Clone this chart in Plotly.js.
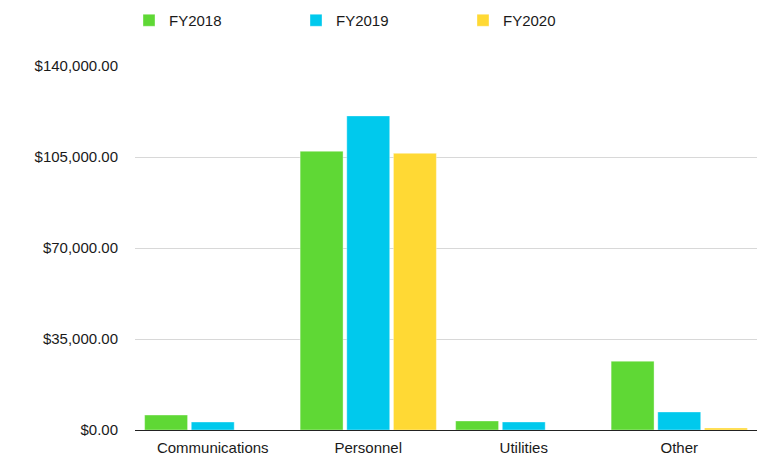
<!DOCTYPE html>
<html>
<head>
<meta charset="utf-8">
<script src="https://cdn.plot.ly/plotly-3.0.1.min.js"></script>
<style>html,body{margin:0;padding:0;background:#fff;}#chart{width:775px;height:455px;}</style>
</head>
<body>
<div id="chart"></div>
<script>
const categories = ["Communications", "Personnel", "Utilities", "Other"];
const fy2018 = [5750, 107200, 3470, 26450];
const fy2019 = [3070, 120800, 3080, 6930];
const fy2020 = [0, 106400, 0, 770];
const seriesNames = ["FY2018", "FY2019", "FY2020"];
const seriesColors = ["#5fd835", "#00c9ed", "#ffd934"];

const data = [fy2018, fy2019, fy2020].map((vals, i) => ({
  type: "bar",
  name: seriesNames[i],
  x: categories,
  y: vals,
  marker: {color: seriesColors[i], line: {color: "rgba(255,255,255,0.6)", width: 0.6}},
  hoverinfo: "x+y+name"
}));

const layout = {
  width: 775, height: 455,
  margin: {l: 135, r: 18, t: 66, b: 25},
  paper_bgcolor: "#fff", plot_bgcolor: "#fff",
  font: {family: "Liberation Sans, Arial, Helvetica, sans-serif", size: 15, color: "#1a1a1a"},
  barmode: "group",
  bargap: 0.1,
  bargroupgap: 0.08,
  showlegend: true,
  legend: {
    orientation: "h",
    xref: "container", yref: "container",
    x: 129/775, y: 1 - 4/455,
    xanchor: "left", yanchor: "top",
    entrywidth: 122, entrywidthmode: "pixels",
    font: {size: 15, color: "#1a1a1a"},
    traceorder: "normal"
  },
  xaxis: {
    showgrid: false,
    showline: true, linecolor: "#222", linewidth: 1.3,
    ticks: "outside", ticklen: 4, tickcolor: "rgba(0,0,0,0)",
    tickfont: {size: 15},
    fixedrange: true
  },
  yaxis: {
    range: [0, 140000],
    dtick: 35000, tick0: 0,
    tickprefix: "$", tickformat: ",.2f",
    showgrid: true, gridcolor: "#d8d8d8", gridwidth: 1,
    zeroline: false, showline: false,
    ticks: "outside", ticklen: 13, tickcolor: "rgba(0,0,0,0)",
    tickfont: {size: 15},
    fixedrange: true
  }
};

Plotly.newPlot("chart", data, layout, {displayModeBar: false, staticPlot: true});
</script>
</body>
</html>
